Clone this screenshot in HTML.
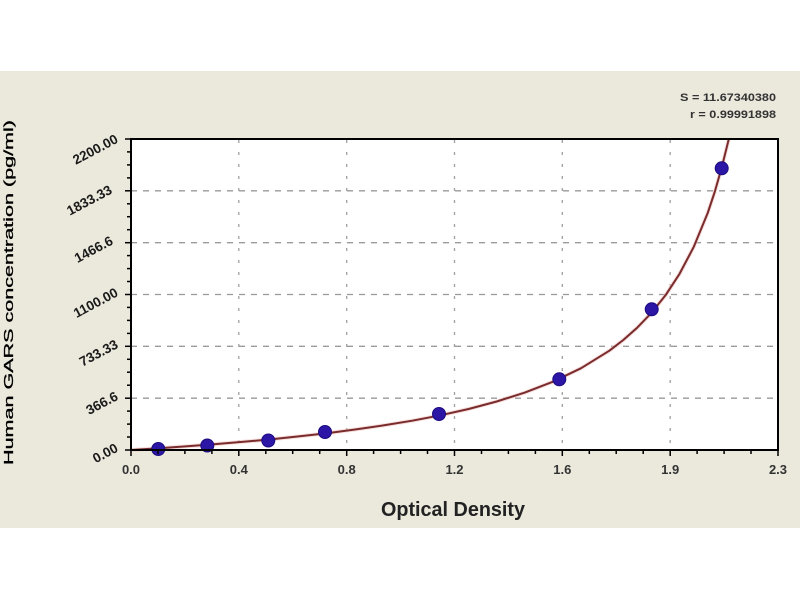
<!DOCTYPE html>
<html>
<head>
<meta charset="utf-8">
<style>
  html, body { margin: 0; padding: 0; background: #ffffff; }
  body { width: 800px; height: 600px; overflow: hidden; }
  svg { display: block; }
  text { font-family: "Liberation Sans", Arial, sans-serif; }
</style>
</head>
<body>
<svg width="800" height="600" viewBox="0 0 800 600" xmlns="http://www.w3.org/2000/svg">
  <rect x="0" y="0" width="800" height="600" fill="#ffffff"/>
  <rect x="0" y="71" width="800" height="457" fill="#ebe8dc"/>

  <!-- plot area -->
  <rect x="131" y="139" width="647" height="311" fill="#ffffff"/>

  <!-- grid: horizontal -->
  <g stroke="#9a9a9a" stroke-width="1.3" stroke-dasharray="6,6" fill="none">
    <line x1="131" y1="398.2" x2="778" y2="398.2"/>
    <line x1="131" y1="346.3" x2="778" y2="346.3"/>
    <line x1="131" y1="294.5" x2="778" y2="294.5"/>
    <line x1="131" y1="242.7" x2="778" y2="242.7"/>
    <line x1="131" y1="190.8" x2="778" y2="190.8"/>
  </g>
  <!-- grid: vertical -->
  <g stroke="#a0a0a0" stroke-width="1.3" stroke-dasharray="3,9" fill="none">
    <line x1="238.8" y1="140" x2="238.8" y2="450"/>
    <line x1="346.7" y1="140" x2="346.7" y2="450"/>
    <line x1="454.5" y1="140" x2="454.5" y2="450"/>
    <line x1="562.3" y1="140" x2="562.3" y2="450"/>
    <line x1="670.2" y1="140" x2="670.2" y2="450"/>
  </g>

  <!-- curve -->
  <polyline fill="none" stroke="#f2c9c9" stroke-width="4" stroke-linejoin="round" opacity="0.6"
    points="131,450 159.1,448.2 187.3,446.3 215.4,444.1 243.5,441.8 271.7,439.2 299.8,436.3 327.9,433.1 356,429.4 384.2,425.3 412.3,420.7 440.4,415.3 468.6,409 496.7,401.5 524.8,392.6 553,381.7 581.1,368.2 609.2,350.8 623.3,340 637.3,327.6 651.4,312.9 665.5,295.3 679.5,273.9 693.6,247.2 707.7,213 714.7,192 721.7,167.6 728.8,139"/>
  <polyline fill="none" stroke="#7a2c2c" stroke-width="2" stroke-linejoin="round"
    points="131,450 159.1,448.2 187.3,446.3 215.4,444.1 243.5,441.8 271.7,439.2 299.8,436.3 327.9,433.1 356,429.4 384.2,425.3 412.3,420.7 440.4,415.3 468.6,409 496.7,401.5 524.8,392.6 553,381.7 581.1,368.2 609.2,350.8 623.3,340 637.3,327.6 651.4,312.9 665.5,295.3 679.5,273.9 693.6,247.2 707.7,213 714.7,192 721.7,167.6 728.8,139"/>

  <!-- data points -->
  <g fill="#2b16a6" stroke="#1c0b7e" stroke-width="1">
    <circle cx="158.3" cy="449" r="6.5"/>
    <circle cx="207.3" cy="445.5" r="6.5"/>
    <circle cx="268.3" cy="440.5" r="6.5"/>
    <circle cx="325" cy="432" r="6.5"/>
    <circle cx="439" cy="414" r="6.5"/>
    <circle cx="559.3" cy="379.3" r="6.5"/>
    <circle cx="651.7" cy="309.3" r="6.5"/>
    <circle cx="721.7" cy="168.3" r="6.5"/>
  </g>

  <!-- plot border -->
  <rect x="131" y="139" width="647" height="311" fill="none" stroke="#000" stroke-width="2"/>

  <!-- y ticks -->
  <g stroke="#000" stroke-width="1.5">
    <line x1="125" y1="450" x2="131" y2="450"/>
    <line x1="125" y1="398.2" x2="131" y2="398.2"/>
    <line x1="125" y1="346.3" x2="131" y2="346.3"/>
    <line x1="125" y1="294.5" x2="131" y2="294.5"/>
    <line x1="125" y1="242.7" x2="131" y2="242.7"/>
    <line x1="125" y1="190.8" x2="131" y2="190.8"/>
    <line x1="125" y1="139" x2="131" y2="139"/>
    <line x1="127" y1="437" x2="131" y2="437"/>
    <line x1="127" y1="424.1" x2="131" y2="424.1"/>
    <line x1="127" y1="411.1" x2="131" y2="411.1"/>
    <line x1="127" y1="385.2" x2="131" y2="385.2"/>
    <line x1="127" y1="372.2" x2="131" y2="372.2"/>
    <line x1="127" y1="359.3" x2="131" y2="359.3"/>
    <line x1="127" y1="333.4" x2="131" y2="333.4"/>
    <line x1="127" y1="320.4" x2="131" y2="320.4"/>
    <line x1="127" y1="307.4" x2="131" y2="307.4"/>
    <line x1="127" y1="281.5" x2="131" y2="281.5"/>
    <line x1="127" y1="268.6" x2="131" y2="268.6"/>
    <line x1="127" y1="255.6" x2="131" y2="255.6"/>
    <line x1="127" y1="229.7" x2="131" y2="229.7"/>
    <line x1="127" y1="216.7" x2="131" y2="216.7"/>
    <line x1="127" y1="203.8" x2="131" y2="203.8"/>
    <line x1="127" y1="177.9" x2="131" y2="177.9"/>
    <line x1="127" y1="164.9" x2="131" y2="164.9"/>
    <line x1="127" y1="151.9" x2="131" y2="151.9"/>
  </g>

  <!-- x ticks -->
  <g stroke="#000" stroke-width="1.5">
    <line x1="131" y1="450" x2="131" y2="456"/>
    <line x1="238.8" y1="450" x2="238.8" y2="456"/>
    <line x1="346.7" y1="450" x2="346.7" y2="456"/>
    <line x1="454.5" y1="450" x2="454.5" y2="456"/>
    <line x1="562.3" y1="450" x2="562.3" y2="456"/>
    <line x1="670.2" y1="450" x2="670.2" y2="456"/>
    <line x1="778" y1="450" x2="778" y2="456"/>
    <line x1="158" y1="450" x2="158" y2="454"/>
    <line x1="184.9" y1="450" x2="184.9" y2="454"/>
    <line x1="211.9" y1="450" x2="211.9" y2="454"/>
    <line x1="265.8" y1="450" x2="265.8" y2="454"/>
    <line x1="292.7" y1="450" x2="292.7" y2="454"/>
    <line x1="319.7" y1="450" x2="319.7" y2="454"/>
    <line x1="373.6" y1="450" x2="373.6" y2="454"/>
    <line x1="400.6" y1="450" x2="400.6" y2="454"/>
    <line x1="427.5" y1="450" x2="427.5" y2="454"/>
    <line x1="481.5" y1="450" x2="481.5" y2="454"/>
    <line x1="508.4" y1="450" x2="508.4" y2="454"/>
    <line x1="535.4" y1="450" x2="535.4" y2="454"/>
    <line x1="589.3" y1="450" x2="589.3" y2="454"/>
    <line x1="616.2" y1="450" x2="616.2" y2="454"/>
    <line x1="643.2" y1="450" x2="643.2" y2="454"/>
    <line x1="697.1" y1="450" x2="697.1" y2="454"/>
    <line x1="724.1" y1="450" x2="724.1" y2="454"/>
    <line x1="751" y1="450" x2="751" y2="454"/>
  </g>

  <!-- x tick labels -->
  <g font-size="13" font-weight="bold" fill="#333" text-anchor="middle">
    <text x="131" y="474">0.0</text>
    <text x="238.8" y="474">0.4</text>
    <text x="346.7" y="474">0.8</text>
    <text x="454.5" y="474">1.2</text>
    <text x="562.3" y="474">1.6</text>
    <text x="670.2" y="474">1.9</text>
    <text x="778" y="474">2.3</text>
  </g>

  <!-- y tick labels (rotated) -->
  <g font-size="13.5" font-weight="bold" fill="#1a1a1a" text-anchor="end">
    <text transform="translate(119,451) rotate(-28)">0.00</text>
    <text transform="translate(119,399.2) rotate(-28)">366.6</text>
    <text transform="translate(119,347.3) rotate(-28)">733.33</text>
    <text transform="translate(119,295.5) rotate(-28)">1100.00</text>
    <text transform="translate(114,243.7) rotate(-28)">1466.6</text>
    <text transform="translate(113,192.8) rotate(-28)">1833.33</text>
    <text transform="translate(119,142) rotate(-28)">2200.00</text>
  </g>

  <!-- axis titles -->
  <text x="453" y="516" font-size="20" font-weight="bold" fill="#222" text-anchor="middle" textLength="144" lengthAdjust="spacingAndGlyphs">Optical Density</text>
  <text transform="translate(13,292.5) rotate(-90)" font-size="12.5" fill="#000" stroke="#000" stroke-width="0.3" text-anchor="middle" textLength="345" lengthAdjust="spacingAndGlyphs">Human GARS concentration (pg/ml)</text>

  <!-- stats -->
  <g font-size="11" font-weight="bold" fill="#333" text-anchor="end">
    <text x="776" y="101" textLength="96" lengthAdjust="spacingAndGlyphs">S = 11.67340380</text>
    <text x="776" y="118" textLength="86" lengthAdjust="spacingAndGlyphs">r = 0.99991898</text>
  </g>
</svg>
</body>
</html>
